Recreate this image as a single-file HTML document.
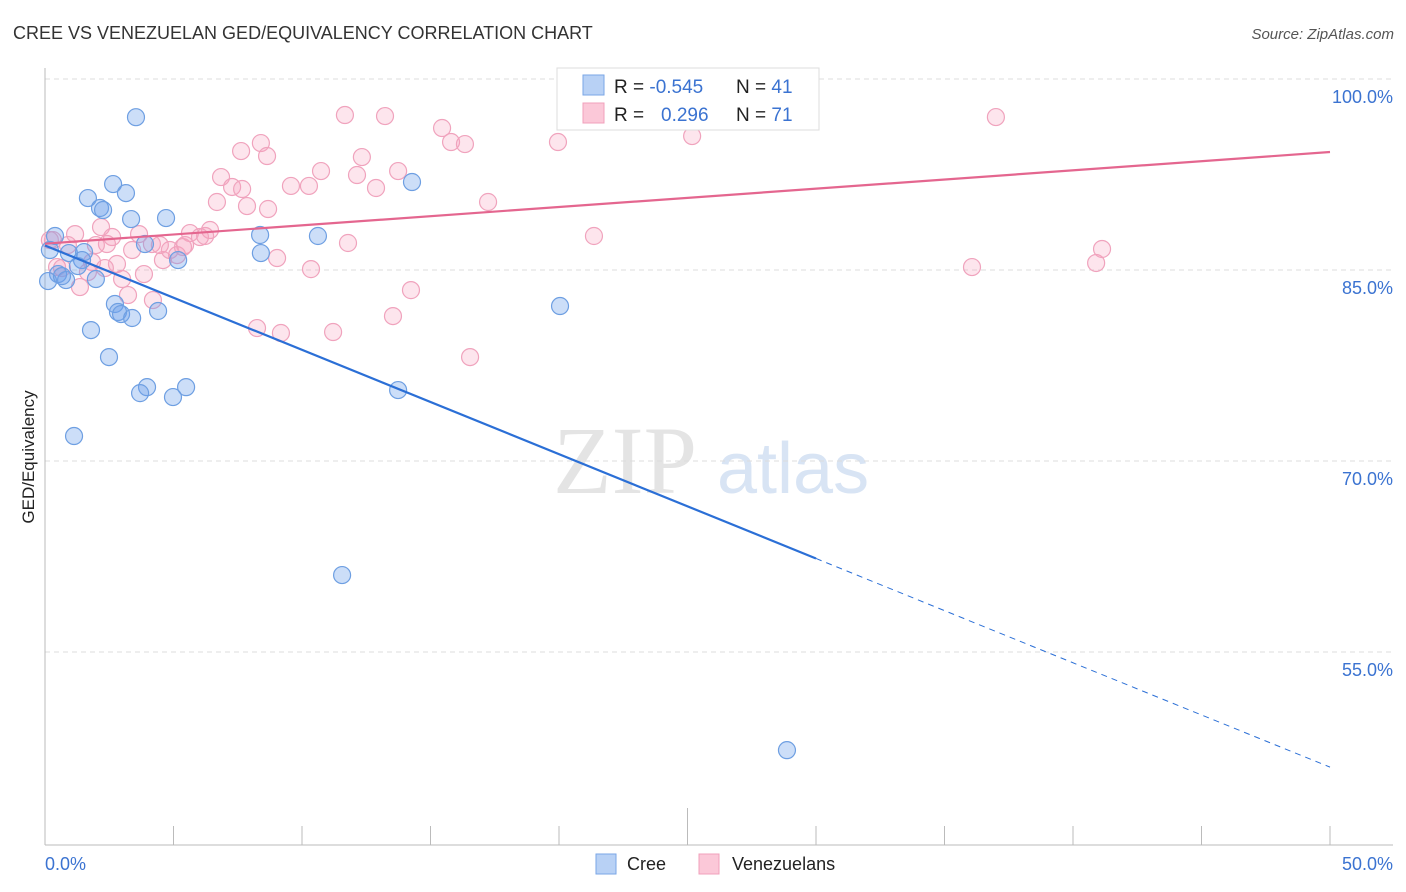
<!DOCTYPE html>
<html><head><meta charset="utf-8"><style>
body{margin:0;background:#fff;font-family:"Liberation Sans",sans-serif;}
svg{display:block}
</style></head><body>
<svg id="chart" width="1406" height="892">
<text x="13" y="39" font-size="18" fill="#333">CREE VS VENEZUELAN GED/EQUIVALENCY CORRELATION CHART</text>
<text x="1394" y="39" font-size="15" fill="#555" font-style="italic" text-anchor="end">Source: ZipAtlas.com</text>
<g>
<text x="553" y="493" font-size="96" font-family="Liberation Serif,serif" fill="#e4e4e4">ZIP</text>
<text x="717" y="493" font-size="72" fill="#d8e4f4">atlas</text>
</g>
<g id="grid"></g>
<g id="axes"></g>
<g id="pts"></g>
<g id="lines"></g>
<text transform="translate(34,457) rotate(-90)" font-size="17" fill="#222" text-anchor="middle">GED/Equivalency</text>
<g>
<rect x="557" y="68" width="262" height="62" fill="#fff" stroke="#ddd"/>
<rect x="583" y="75" width="21" height="20" fill="#b8d1f5" stroke="#7aa6e6"/>
<rect x="583" y="103" width="21" height="20" fill="#fbc8d8" stroke="#f0a0bb"/>
<text x="614" y="93" font-size="19" fill="#222">R = <tspan fill="#3b73d1">-0.545</tspan><tspan x="736">N = </tspan><tspan fill="#3b73d1">41</tspan></text>
<text x="614" y="121" font-size="19" fill="#222">R = <tspan x="661" fill="#3b73d1">0.296</tspan><tspan x="736">N = </tspan><tspan fill="#3b73d1">71</tspan></text>
</g>
<g>
<rect x="596" y="854" width="20" height="20" fill="#b8d1f5" stroke="#7aa6e6"/>
<text x="627" y="870" font-size="18" fill="#222">Cree</text>
<rect x="699" y="854" width="20" height="20" fill="#fbc8d8" stroke="#f0a0bb"/>
<text x="732" y="870" font-size="18" fill="#222">Venezuelans</text>
</g>
</svg>
<script>
const creeX=[3.54,2.65,3.15,1.67,2.14,2.26,3.35,4.71,0.39,8.37,10.62,8.4,0.93,1.52,3.89,5.18,1.44,1.28,0.51,0.82,1.98,0.12,14.28,20.04,2.72,2.84,2.96,3.39,4.4,1.79,2.49,3.97,3.7,5.49,4.98,13.74,1.13,11.56,28.87,0.19,0.66];
const creeY=[97.0,91.75,91.04,90.65,89.87,89.71,89.0,89.08,87.67,87.75,87.67,86.33,86.33,86.41,87.04,85.78,85.78,85.31,84.68,84.21,84.29,84.13,91.91,82.17,82.33,81.7,81.54,81.23,81.78,80.28,78.16,75.8,75.33,75.8,75.02,75.57,71.96,61.04,47.29,86.57,84.52];
const venX=[11.67,13.23,15.45,15.8,16.34,7.63,8.4,8.64,12.33,10.74,12.14,13.74,6.85,7.28,7.67,9.57,10.27,12.88,6.69,7.86,8.68,11.79,9.03,10.35,14.24,13.54,8.25,9.18,11.21,16.54,1.17,2.18,2.61,3.66,2.41,3.39,4.16,4.59,2.8,3.85,3.0,3.23,4.2,1.36,0.47,0.89,1.83,4.86,5.37,5.64,6.42,6.03,5.14,0.31,17.24,19.96,21.91,25.18,21.36,37.0,36.07,40.9,41.13,6.23,5.45,1.98,0.19,0.66,1.67,2.33,4.47];
const venY=[97.17,97.09,96.15,95.05,94.89,94.34,94.97,93.95,93.87,92.77,92.46,92.77,92.3,91.52,91.36,91.6,91.6,91.44,90.34,90.02,89.79,87.12,85.94,85.07,83.42,81.38,80.44,80.05,80.13,78.16,87.82,88.37,87.59,87.82,87.04,86.57,87.04,85.78,85.47,84.68,84.29,83.03,82.64,83.66,85.23,86.96,85.62,86.57,86.8,87.9,88.14,87.59,86.17,87.35,90.34,95.05,99.92,95.52,87.67,97.01,85.23,85.55,86.65,87.67,86.96,86.96,87.35,85.15,84.84,85.15,86.96];
const yTicks=[100,85,70,55];
const yTickLabels=["100.0%","85.0%","70.0%","55.0%"];
const xTickLabels=["0.0%","50.0%"];
const NS="http://www.w3.org/2000/svg";
const sx=v=>45+v*25.7;
const sy=v=>79+(100-v)*12.733;
function mk(tag,attrs,parent){const e=document.createElementNS(NS,tag);for(const k in attrs)e.setAttribute(k,attrs[k]);document.getElementById(parent).appendChild(e);return e;}
yTicks.forEach((t,i)=>{
 const l=mk('line',{x1:45,x2:1393,y1:sy(t),y2:sy(t),stroke:'#ddd','stroke-dasharray':'5,4'},'grid');
 
 
 const tx=mk('text',{x:1393,y:sy(t)+24,'font-size':18,fill:'#3b73d1','text-anchor':'end'},'grid');
 tx.textContent=yTickLabels[i];
 
 
});
const ax=mk('line',{x1:45,x2:45,y1:68,y2:845,stroke:'#bbb'},'axes');


const bx=mk('line',{x1:45,x2:1393,y1:845,y2:845,stroke:'#bbb'},'axes');


for(let i=1;i<=10;i++){
 const t=mk('line',{x1:sx(i*5),x2:sx(i*5),y1:i==5?808:826,y2:845,stroke:'#bbb'},'axes');
 
 
}
const xl0=mk('text',{x:45,y:870,'font-size':18,fill:'#3b73d1'},'axes');xl0.textContent=xTickLabels[0];


const xl1=mk('text',{x:1393,y:870,'font-size':18,fill:'#3b73d1','text-anchor':'end'},'axes');xl1.textContent=xTickLabels[1];


function pts(X,Y,fill,stroke,name){X.forEach((x,i)=>{const c=mk('circle',{cx:sx(x),cy:sy(Y[i]),r:8.5,fill:fill,stroke:stroke,'stroke-width':1.2},'pts');
 
 });}
pts(venX,venY,'rgba(247,160,190,0.28)','#f0a3bd','venezuelan-point');
pts(creeX,creeY,'rgba(110,160,235,0.35)','#6e9fe2','cree-point');
function fit(X,Y){const n=X.length;let mx=0,my=0;X.forEach((x,i)=>{mx+=x;my+=Y[i];});mx/=n;my/=n;let sxy=0,sxx=0;X.forEach((x,i)=>{sxy+=(x-mx)*(Y[i]-my);sxx+=(x-mx)**2;});const b=sxy/sxx;return [my-b*mx,b];}
const [ca,cb]=fit(creeX,creeY);
const [va,vb]=fit(venX,venY);
const l1=mk('line',{x1:sx(0),y1:sy(ca),x2:sx(30),y2:sy(ca+cb*30),stroke:'#2b6fd6','stroke-width':2.2},'lines');


const l2=mk('line',{x1:sx(30),y1:sy(ca+cb*30),x2:sx(50),y2:sy(ca+cb*50),stroke:'#2b6fd6','stroke-width':1,'stroke-dasharray':'6,5'},'lines');


const l3=mk('line',{x1:sx(0),y1:sy(va),x2:sx(50),y2:sy(va+vb*50),stroke:'#e4668f','stroke-width':2.2},'lines');


</script>
</body></html>
